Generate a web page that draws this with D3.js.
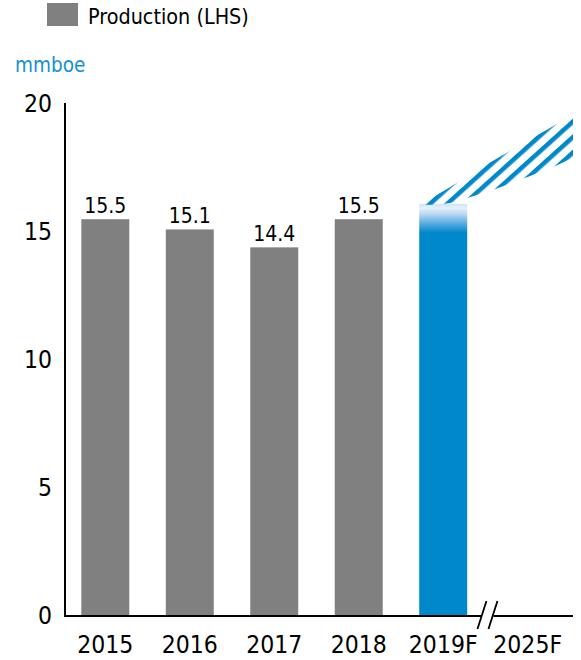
<!DOCTYPE html>
<html>
<head>
<meta charset="utf-8">
<script src="https://cdn.jsdelivr.net/npm/d3@7"></script>
<style>
  html, body { margin: 0; padding: 0; background: #fff; }
  svg { display: block; }
  text { font-family: "DejaVu Sans Condensed", "DejaVu Sans", sans-serif; fill: #000; font-weight: normal; }
</style>
</head>
<body>
<svg id="chart" width="581" height="660"></svg>
<script>
// ---- data ----
const categories = ["2015", "2016", "2017", "2018", "2019F", "2025F"];
const production = [15.5, 15.1, 14.4, 15.5, 16.1, null];
const valueLabels = ["15.5", "15.1", "14.4", "15.5", null, null];
const yTicks = [0, 5, 10, 15, 20];
// forecast range band (2019 -> 2025)
const forecastYears = [2019, 2020, 2021, 2022, 2023, 2024, 2025];
const forecastHigh = [16.05, 16.63, 17.25, 17.85, 18.43, 19.0, 19.6];
const forecastLow  = [16.05, 16.1, 16.37, 16.69, 17.07, 17.44, 17.9];
const legendLabel = "Production (LHS)";
const unitLabel = "mmboe";

// ---- layout ----
const mLeft = 65, mRight = 573, mTop = 104, mBottom = 616;
const grey = "#808080", blue = "#0088cc";

const svg = d3.select("#chart");
const defs = svg.append("defs");

const x = d3.scaleBand().domain(categories).range([mLeft, 568])
  .paddingInner(0.432).paddingOuter(0.193);
const y = d3.scaleLinear().domain([0, 20]).range([mBottom, mTop]);

// gradient for forecast bar
const grad = defs.append("linearGradient").attr("id", "fgrad")
  .attr("x1", 0).attr("y1", 0).attr("x2", 0).attr("y2", 1);
[[0, "#cfe3f7"], [0.01, "#e6f0fa"], [0.025, "#b9d8f1"], [0.045, "#62b0e2"], [0.07, blue], [1, blue]]
  .forEach(([o, c]) => grad.append("stop").attr("offset", o).attr("stop-color", c));

// hatch pattern
const pat = defs.append("pattern").attr("id", "hatch")
  .attr("patternUnits", "userSpaceOnUse")
  .attr("width", 11.5).attr("height", 11.5)
  .attr("patternTransform", "rotate(48)");
pat.append("rect").attr("x", 0).attr("y", 0).attr("width", 4.5).attr("height", 11.5).attr("fill", blue);

// bars
production.forEach((v, i) => {
  if (v == null) return;
  const c = categories[i];
  svg.append("rect")
    .attr("x", x(c)).attr("width", x.bandwidth())
    .attr("y", y(v)).attr("height", y(0) - y(v))
    .attr("fill", c.endsWith("F") ? "url(#fgrad)" : grey);
  if (valueLabels[i]) {
    svg.append("text")
      .attr("x", x(c) + x.bandwidth() / 2).attr("y", y(v) - 6)
      .attr("text-anchor", "middle").attr("font-size", 21)
      .text(valueLabels[i]);
  }
});

// forecast band
const xf = d3.scaleLinear().domain([2019, 2025]).range([x("2019F"), mRight]);
const area = d3.area()
  .x((d, i) => xf(forecastYears[i]))
  .y0((d, i) => y(forecastLow[i]))
  .y1((d, i) => y(forecastHigh[i]))
  .curve(d3.curveMonotoneX);
svg.append("path").datum(forecastYears).attr("d", area).attr("fill", "url(#hatch)");

// y axis
const yAxis = d3.axisLeft(y).tickValues(yTicks).tickSize(0).tickPadding(13);
const gy = svg.append("g").attr("transform", `translate(${mLeft},0)`).call(yAxis);
gy.select(".domain").remove();
gy.selectAll("text").attr("font-size", 24.5).attr("font-family", null).attr("fill", "#000");
svg.append("line").attr("x1", mLeft).attr("x2", mLeft).attr("y1", mTop - 1).attr("y2", mBottom + 1)
  .attr("stroke", "#000").attr("stroke-width", 2);

// x axis
const xAxis = d3.axisBottom(x).tickSize(0).tickPadding(20);
const gx = svg.append("g").attr("transform", `translate(0,${mBottom})`).call(xAxis);
gx.select(".domain").remove();
gx.selectAll("text").attr("font-size", 24.5).attr("font-family", null).attr("fill", "#000");

// x axis line with break
const breakX = (x("2019F") + x.bandwidth() + x("2025F")) / 2 + 2;
svg.append("line").attr("x1", mLeft).attr("x2", breakX - 6).attr("y1", mBottom).attr("y2", mBottom)
  .attr("stroke", "#000").attr("stroke-width", 2);
svg.append("line").attr("x1", breakX + 6).attr("x2", mRight).attr("y1", mBottom).attr("y2", mBottom)
  .attr("stroke", "#000").attr("stroke-width", 2);
[-5.5, 5.5].forEach(o => {
  svg.append("line")
    .attr("x1", breakX + o - 4.5).attr("y1", mBottom + 13)
    .attr("x2", breakX + o + 4.5).attr("y2", mBottom - 15)
    .attr("stroke", "#000").attr("stroke-width", 1.8);
});

// legend
svg.append("rect").attr("x", 47).attr("y", 3).attr("width", 31).attr("height", 23).attr("fill", grey);
svg.append("text").attr("x", 88).attr("y", 24).attr("font-size", 21.4).text(legendLabel);

// unit label
svg.append("text").attr("x", 15).attr("y", 72).attr("font-size", 20.5).style("fill", "#1590d5").text(unitLabel);
</script>
</body>
</html>
